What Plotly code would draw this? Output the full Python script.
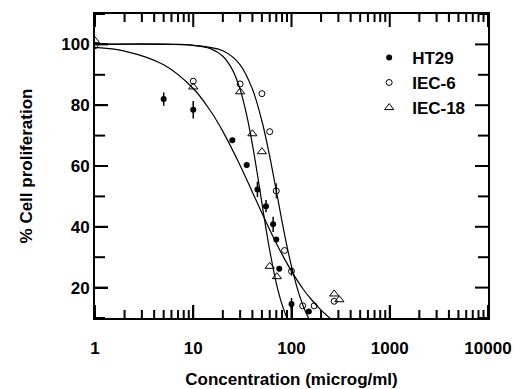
import plotly.graph_objects as go

# ---- data ----
ht29_x = [5, 10, 25, 35, 45, 55, 65, 70, 75, 100, 150]
ht29_y = [82.0, 78.5, 68.5, 60.3, 52.3, 46.8, 40.8, 35.8, 26.2, 14.6, 12.1]
ht29_err = [2.2, 2.9, 0.8, 0.8, 2.5, 2.0, 2.5, 0.8, 0.8, 2.0, 0.8]

iec6_x = [1, 10, 30, 50, 60, 70, 85, 100, 130, 170, 272]
iec6_y = [99.6, 87.9, 87.0, 83.8, 71.3, 51.8, 32.2, 25.4, 14.0, 14.0, 15.5]
iec6_err = [0, 0, 0, 0, 0, 2.5, 0, 1.5, 0, 0, 0]

iec18_x = [1, 10, 30, 40, 50, 60, 71, 272, 307]
iec18_y = [101.2, 86.0, 84.4, 70.6, 64.7, 27.0, 23.6, 17.9, 16.0]

# fitted curves
fit_ht29_x = [1, 2, 5, 10, 15, 20, 30, 40, 50, 60, 70, 80, 100, 130, 160, 200, 250]
fit_ht29_y = [99.0, 97.8, 93.3, 85.5, 78.1, 71.4, 60.2, 51.4, 44.5, 39.0, 34.6, 31.0, 25.4, 19.7, 16.0, 12.6, 9.8]

fit_iec18_x = [1, 5, 10, 15, 20, 25, 30, 35, 40, 45, 50, 55, 60, 70, 80, 90, 100]
fit_iec18_y = [100.0, 100.0, 99.7, 98.6, 96.1, 91.7, 85.2, 76.7, 67.1, 57.2, 47.8, 39.4, 32.3, 21.5, 14.5, 10.0, 7.1]

fit_iec6_x = [1, 10, 20, 30, 40, 50, 60, 70, 80, 90, 100, 120, 140, 160]
fit_iec6_y = [100.0, 99.7, 97.9, 93.3, 85.3, 74.8, 63.2, 51.9, 41.9, 33.6, 27.0, 17.6, 11.8, 8.2]

x_tickvals = [1, 10, 100, 1000, 10000]
x_ticktext = ["1", "10", "100", "1000", "10000"]
x_minor_vals = [m * d for d in (1, 10, 100, 1000) for m in range(2, 10)]
y_tickvals = [20, 40, 60, 80, 100]
y_minor_vals = [10, 30, 50, 70, 90, 110]

X_RANGE = [0, 4]      # log10 decades
Y_RANGE = [10, 110]

FONT = "Liberation Sans, Arial, sans-serif"
FS = 17
W, H = 514, 389
M = dict(l=95, r=26, t=14, b=71)
PLOT_W = W - M["l"] - M["r"]
PLOT_H = H - M["t"] - M["b"]
Y_PER_PX = (Y_RANGE[1] - Y_RANGE[0]) / PLOT_H
DEC_PER_PX = (X_RANGE[1] - X_RANGE[0]) / PLOT_W

fig = go.Figure()

for fx, fy in [(fit_ht29_x, fit_ht29_y), (fit_iec18_x, fit_iec18_y), (fit_iec6_x, fit_iec6_y)]:
    fig.add_trace(go.Scatter(x=fx, y=fy, mode="lines", line=dict(color="black", width=1.2, shape="spline"),
                             showlegend=False, hoverinfo="skip"))

fig.add_trace(go.Scatter(
    x=ht29_x, y=ht29_y, mode="markers", name="<b>HT29</b>",
    marker=dict(symbol="circle", size=6, color="black"),
    error_y=dict(type="data", array=ht29_err, visible=True, color="black", thickness=1.5, width=0),
))
fig.add_trace(go.Scatter(
    x=iec6_x, y=iec6_y, mode="markers", name="<b>IEC-6</b>",
    marker=dict(symbol="circle-open", size=6, color="black", line=dict(width=1)),
    error_y=dict(type="data", array=iec6_err, visible=True, color="black", thickness=1.2, width=0),
))
fig.add_trace(go.Scatter(
    x=iec18_x, y=iec18_y, mode="markers", name="<b>IEC-18</b>",
    marker=dict(symbol="triangle-up-open", size=8, color="black", line=dict(width=1)),
))

# inside tick marks on all four sides: invisible anchor points at the inner end of
# each tick, with a one-sided error bar reaching out to the axis line
invisible = dict(size=1, color="rgba(0,0,0,0)")


def tick_trace(x, y, **err):
    fig.add_trace(go.Scatter(x=x, y=y, mode="markers", marker=invisible, showlegend=False,
                             hoverinfo="skip", **err))


for vals, ln in ((x_tickvals, 13), (x_minor_vals, 8)):
    d = ln * Y_PER_PX
    tick_trace(vals, [Y_RANGE[0] + d] * len(vals),
               error_y=dict(type="constant", value=0, valueminus=d, symmetric=False,
                            color="black", thickness=2, width=0))
    tick_trace(vals, [Y_RANGE[1] - d] * len(vals),
               error_y=dict(type="constant", value=d, valueminus=0, symmetric=False,
                            color="black", thickness=2, width=0))
for vals, ln in ((y_tickvals, 13), (y_minor_vals, 10)):
    f = 10 ** (ln * DEC_PER_PX)
    x_lo, x_hi = 10 ** X_RANGE[0], 10 ** X_RANGE[1]
    tick_trace([x_lo * f] * len(vals), vals,
               error_x=dict(type="constant", value=0, valueminus=x_lo * f - x_lo, symmetric=False,
                            color="black", thickness=2, width=0))
    tick_trace([x_hi / f] * len(vals), vals,
               error_x=dict(type="constant", value=x_hi - x_hi / f, valueminus=0, symmetric=False,
                            color="black", thickness=2, width=0))

tickfont = dict(family=FONT, size=FS, color="black")

fig.update_layout(
    width=W, height=H,
    margin=dict(M, autoexpand=False),
    paper_bgcolor="white", plot_bgcolor="white",
    font=dict(family=FONT, size=FS, color="black"),
    xaxis=dict(
        type="log", range=X_RANGE, tickmode="array", tickvals=x_tickvals,
        ticktext=["<b>%s</b>" % t for t in x_ticktext],
        showline=True, linecolor="black", linewidth=2, mirror=True,
        ticks="inside", tickcolor="black", tickwidth=2, ticklen=13, ticklabelstandoff=14,
        showgrid=False, zeroline=False, tickfont=tickfont,
        title=dict(text="<b>Concentration (microg/ml)</b>", font=tickfont, standoff=28),
    ),
    yaxis=dict(
        range=Y_RANGE, tickmode="array", tickvals=y_tickvals, ticktext=["<b>%d</b>" % v for v in y_tickvals],
        showline=True, linecolor="black", linewidth=2, mirror=True,
        ticks="inside", tickcolor="black", tickwidth=2, ticklen=13,
        showgrid=False, zeroline=False, tickfont=tickfont,
        title=dict(text="<b>% Cell proliferation</b>", font=tickfont, standoff=24),
    ),
    legend=dict(x=0.69, y=0.915, xanchor="left", yanchor="top", bgcolor="rgba(0,0,0,0)",
                font=tickfont, itemwidth=36, tracegroupgap=0),
)

fig.write_html("out.html")
